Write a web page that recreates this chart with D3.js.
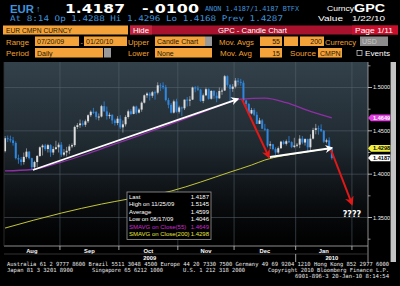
<!DOCTYPE html>
<html><head><meta charset="utf-8">
<script src="https://cdn.jsdelivr.net/npm/d3@7"></script>
<style>html,body{margin:0;padding:0;background:#000;overflow:hidden}svg{display:block}</style>
</head><body><svg id="c" width="400" height="286"></svg>
<script>
// ---------- DATA ----------
const firstDay = "2009-08-03", lastDay = "2010-01-20", axisEndDay = "2010-02-12";
const opens = [1.4265,1.4415,1.4403,1.4390,1.4360,1.4185,1.4170,1.4140,1.4200,1.4260,1.4185,1.4080,1.4140,1.4210,1.4310,1.4330,1.4290,1.4335,1.4250,1.4290,1.4310,
1.4340,1.4225,1.4250,1.4270,1.4320,1.4335,1.4545,1.4565,1.4585,1.4570,1.4610,1.4680,1.4720,1.4718,1.4660,1.4665,1.4785,1.4725,1.4670,1.4685,1.4620,1.4590,
1.4640,1.4540,1.4575,1.4660,1.4725,1.4695,1.4780,1.4710,1.4745,1.4825,1.4910,1.4930,1.4905,1.4945,1.4940,1.5025,1.5020,1.5005,1.4855,1.4800,1.4710,1.4840,
1.4720,1.4770,1.4760,1.4860,1.4850,1.4860,1.5000,1.4990,1.4975,1.4845,1.4910,1.4980,1.4870,1.4960,1.4905,1.4875,1.4960,1.4965,1.5130,1.5030,1.4985,
1.5010,1.5080,1.5065,1.5055,1.4850,1.4810,1.4700,1.4740,1.4685,1.4580,1.4620,1.4525,1.4520,1.4330,1.4345,1.4290,1.4250,1.4300,1.4375,1.4350,1.4380,1.4370,1.4315,
1.4330,1.4340,1.4410,1.4365,1.4405,1.4310,1.4410,1.4510,1.4530,1.4520,1.4500,1.4375,1.4390,1.4288];
const highs = [1.4440,1.4446,1.4445,1.4430,1.4379,1.4225,1.4199,1.4250,1.4298,1.4265,1.4190,1.4155,1.4220,1.4320,1.4345,1.4350,1.4350,1.4345,1.4320,1.4385,1.4365,
1.4370,1.4290,1.4315,1.4345,1.4355,1.4560,1.4590,1.4630,1.4620,1.4630,1.4690,1.4735,1.4765,1.4730,1.4700,1.4800,1.4840,1.4780,1.4710,1.4690,1.4640,1.4670,
1.4680,1.4620,1.4680,1.4745,1.4750,1.4790,1.4790,1.4760,1.4840,1.4920,1.4945,1.4945,1.4960,1.4965,1.5060,1.5050,1.5060,1.5030,1.4880,1.4820,1.4860,1.4870,
1.4790,1.4780,1.4860,1.4890,1.4900,1.5010,1.5015,1.5020,1.4985,1.4930,1.5000,1.4990,1.4970,1.4970,1.4945,1.5000,1.4990,1.5145,1.5140,1.5040,1.5040,
1.5110,1.5110,1.5100,1.5080,1.4860,1.4820,1.4765,1.4760,1.4720,1.4650,1.4635,1.4580,1.4525,1.4380,1.4350,1.4310,1.4320,1.4385,1.4390,1.4400,1.4440,1.4380,1.4420,
1.4360,1.4450,1.4440,1.4415,1.4410,1.4460,1.4535,1.4580,1.4560,1.4575,1.4510,1.4410,1.4425,1.4296];
const lows = [1.4250,1.4370,1.4366,1.4330,1.4170,1.4120,1.4100,1.4110,1.4180,1.4170,1.4046,1.4060,1.4080,1.4200,1.4215,1.4270,1.4250,1.4200,1.4220,1.4280,1.4250,
1.4200,1.4205,1.4205,1.4230,1.4300,1.4315,1.4520,1.4535,1.4550,1.4545,1.4590,1.4660,1.4695,1.4630,1.4620,1.4655,1.4720,1.4630,1.4640,1.4580,1.4560,1.4565,
1.4520,1.4480,1.4550,1.4640,1.4680,1.4690,1.4690,1.4700,1.4720,1.4815,1.4880,1.4850,1.4880,1.4860,1.4920,1.4960,1.4980,1.4840,1.4760,1.4700,1.4700,1.4710,
1.4700,1.4670,1.4740,1.4780,1.4785,1.4855,1.4945,1.4960,1.4835,1.4820,1.4900,1.4860,1.4860,1.4870,1.4830,1.4870,1.4915,1.4960,1.5010,1.4830,1.4950,
1.4990,1.5025,1.5020,1.4830,1.4780,1.4690,1.4690,1.4670,1.4580,1.4580,1.4520,1.4500,1.4310,1.4290,1.4275,1.4220,1.4235,1.4290,1.4340,1.4330,1.4360,1.4300,1.4300,
1.4310,1.4300,1.4345,1.4330,1.4265,1.4265,1.4400,1.4460,1.4455,1.4485,1.4360,1.4355,1.4275,1.4168];
const closes = [1.4415,1.4403,1.4390,1.4360,1.4185,1.4170,1.4140,1.4200,1.4260,1.4185,1.4080,1.4140,1.4210,1.4310,1.4330,1.4290,1.4335,1.4250,1.4290,1.4310,1.4340,
1.4225,1.4250,1.4270,1.4320,1.4335,1.4545,1.4565,1.4585,1.4570,1.4610,1.4680,1.4720,1.4718,1.4660,1.4665,1.4785,1.4725,1.4670,1.4685,1.4620,1.4590,1.4640,
1.4540,1.4575,1.4660,1.4725,1.4695,1.4780,1.4710,1.4745,1.4825,1.4910,1.4930,1.4905,1.4945,1.4940,1.5025,1.5020,1.5005,1.4855,1.4800,1.4710,1.4840,1.4720,
1.4770,1.4760,1.4860,1.4850,1.4860,1.5000,1.4990,1.4975,1.4845,1.4910,1.4980,1.4870,1.4960,1.4905,1.4875,1.4960,1.4965,1.5130,1.5030,1.4985,1.5010,
1.5080,1.5065,1.5055,1.4850,1.4810,1.4700,1.4740,1.4685,1.4580,1.4620,1.4525,1.4520,1.4330,1.4345,1.4290,1.4250,1.4300,1.4375,1.4350,1.4380,1.4370,1.4315,1.4330,
1.4340,1.4410,1.4365,1.4405,1.4310,1.4410,1.4510,1.4530,1.4520,1.4500,1.4375,1.4390,1.4287,1.4187];
// moving averages at trading-day positions
const sma55Day = [0,10,21,30,40,50,60,70,80,88,97,105,114,122];
const sma55Val = [1.4037,1.4054,1.4140,1.4227,1.4337,1.4446,1.4556,1.4671,1.4787,1.4867,1.4878,1.4825,1.4725,1.4649];
const sma200Day = [0,21,36,46,62,73,84,92,97,110,122];
const sma200Val = [1.3378,1.3551,1.3655,1.3713,1.3805,1.3909,1.4024,1.4105,1.4163,1.4244,1.4298];
const yTicks = [1.35,1.40,1.45,1.50];
const yMinorTicks = [1.325,1.375,1.425,1.475,1.525];
const monthNames = ["Aug","Sep","Oct","Nov","Dec","Jan"];
// hand-drawn trend arrows (trading-day index, price)
const arrowFrom = [[10.4,1.4048],[88.4,1.4867],[98.9,1.4198],[121.7,1.4279]];
const arrowTo   = [[86.9,1.4867],[98.5,1.4198],[122.0,1.4302],[129.5,1.3656]];
const arrowKind = ["white","red","white","red"];
const questionMark = {day:129.5, price:1.3505, text:"????"};
const legendLabels = ["Last","High on 11/25/09","Average","Low on 08/17/09","SMAVG on Close(55)","SMAVG on Close(200)"];
const legendValues = ["1.4187","1.5145","1.4599","1.4046","1.4649","1.4298"];
const tagValues = [1.4649,1.4298,1.4187];

// ---------- SETUP ----------
const svg = d3.select("#c");
const isWeekday = d => d.getDay() !== 0 && d.getDay() !== 6;
const parse = d3.timeParse("%Y-%m-%d");
const allDays = d3.timeDay.range(parse(firstDay), d3.timeDay.offset(parse(axisEndDay),1)).filter(isWeekday);
const nData = closes.length;
const x = d3.scaleLinear().domain([-0.5, 135.5]).range([3.7, 368]);
const y = d3.scaleLinear().domain([1.31712, 1.52942]).range([246, 62]);
const PL = 4, PR = 368, PT = 62, PB = 246;

svg.append("rect").attr("width",400).attr("height",286).attr("fill","#000");
const defs = svg.append("defs");
const g = defs.append("linearGradient").attr("id","bg").attr("x1",0).attr("y1",0).attr("x2",0).attr("y2",1);
g.append("stop").attr("offset","0%").attr("stop-color","#33414b");
g.append("stop").attr("offset","45%").attr("stop-color","#1f2930");
g.append("stop").attr("offset","80%").attr("stop-color","#080a0c");
g.append("stop").attr("offset","100%").attr("stop-color","#000");
defs.append("clipPath").attr("id","clip").append("rect").attr("x",PL).attr("y",PT).attr("width",PR-PL).attr("height",PB-PT);
function marker(id, color){
  defs.append("marker").attr("id",id).attr("viewBox","0 0 10 10").attr("refX",8).attr("refY",5)
    .attr("markerWidth",4.5).attr("markerHeight",4.5).attr("orient","auto-start-reverse")
    .append("path").attr("d","M0,0 L10,5 L0,10 L3,5 Z").attr("fill",color);
}
marker("mW","#ffffff"); marker("mR","#e01818");

// ---------- HEADER ----------
function txt(t, xx, yy, o){
  o = o || {};
  const e = svg.append("text").attr("x",xx).attr("y",yy).text(t)
    .attr("font-family", o.ff || "Liberation Sans, Arial, sans-serif")
    .attr("font-size", o.fs || 7.5).attr("fill", o.fill || "#fff")
    .attr("font-weight", o.fw || "normal");
  if (o.tl) e.attr("textLength", o.tl).attr("lengthAdjust","spacingAndGlyphs");
  if (o.anchor) e.attr("text-anchor", o.anchor);
  return e;
}
const BLUE = "#3f93dc", ORANGE = "#f4a33a", DARK = "#2a1700", LBL = "#f0a030";
txt("EUR", 10, 12.5, {fs:11.5, fw:"bold", fill:BLUE, tl:24});
txt("\u2191", 36, 12, {fs:9, fill:BLUE});
txt("1.4187", 65, 12.5, {fs:12.5, fw:"bold", tl:60, ff:"DejaVu Sans, sans-serif"});
txt("-.0100", 142, 12.5, {fs:12.5, fw:"bold", tl:57, ff:"DejaVu Sans, sans-serif"});
txt("ANON 1.4187/1.4187 BTFX", 205, 11, {fs:6.9, fill:BLUE, tl:94, ff:"DejaVu Sans Mono, monospace"});
txt("Curncy", 327, 11, {fs:8, tl:27});
txt("GPC", 354, 11.5, {fs:10, fw:"bold", tl:31});
txt("At  8:14 Op 1.4288   Hi 1.4296   Lo 1.4168   Prev 1.4287", 10, 21, {fs:7.8, fill:BLUE, tl:273, ff:"DejaVu Sans Mono, monospace"});
txt("Value", 318, 21, {fs:7.8, tl:25});
txt("1/22/10", 352, 21, {fs:7.8, tl:33});

svg.append("rect").attr("x",3).attr("y",25.5).attr("width",125).attr("height",9).attr("fill",ORANGE);
txt("EUR CMPN CURNCY", 6, 32.8, {fs:7, fill:DARK, tl:66});
svg.append("rect").attr("x",130).attr("y",25.5).attr("width",268).attr("height",9).attr("fill","#a8122c");
svg.append("rect").attr("x",130).attr("y",25.5).attr("width",22).attr("height",9).attr("fill","#c0243e");
svg.append("rect").attr("x",352).attr("y",25.5).attr("width",46).attr("height",9).attr("fill","#c8102c");
txt("Hide", 133, 32.8, {fs:7, tl:16});
txt("GPC - Candle Chart", 218, 32.8, {fs:7, tl:69});
txt("Page 1/11", 355, 32.8, {fs:7, tl:38});

function field(x0, w, yy, t, opt){
  opt = opt || {};
  svg.append("rect").attr("x",x0).attr("y",yy).attr("width",w).attr("height",9.5).attr("fill",opt.bg || ORANGE);
  if (t) txt(t, opt.right ? x0+w-2 : x0+2, yy+7.6, {fs:7, fill:opt.fill || DARK, anchor: opt.right ? "end" : null});
}
// row 4
txt("Range", 6, 44.5, {fs:7, fill:LBL, tl:23});
field(35, 44, 36.5, "07/20/09");
txt("-", 80.5, 44.5, {fs:7, fill:LBL});
field(84, 43, 36.5, "01/20/10");
txt("Upper", 128, 44.5, {fs:7, fill:LBL, tl:21});
field(155, 50, 36.5, "Candle Chart");
svg.append("rect").attr("x",205).attr("y",36.5).attr("width",7).attr("height",9.5).attr("fill","#9a9a9a");
txt("Mov. Avgs", 219, 44.5, {fs:7, fill:LBL, tl:35});
field(260, 22, 36.5, "55", {right:true});
field(284, 14, 36.5, "");
field(300, 24, 36.5, "200", {right:true});
txt("Currency", 325, 44.5, {fs:7, fill:LBL, tl:31});
field(360, 28, 36.5, "USD", {bg:"#8c8c8c", fill:"#c8c8c8"});
// row 5
txt("Period", 6, 56, {fs:7, fill:LBL, tl:23});
field(35, 68, 48, "Daily");
svg.append("rect").attr("x",104).attr("y",48).attr("width",7).attr("height",9.5).attr("fill","#9a9a9a");
txt("Lower", 128, 56, {fs:7, fill:LBL, tl:21});
field(155, 57, 48, "None");
txt("Mov. Avg", 220, 56, {fs:7, fill:LBL, tl:32});
field(260, 22, 48, "15", {right:true});
txt("Source", 290, 56, {fs:7, fill:LBL, tl:26});
field(318, 24, 48, "CMPN");
svg.append("rect").attr("x",357).attr("y",50.5).attr("width",5).attr("height",5).attr("fill","none").attr("stroke","#ddd").attr("stroke-width",0.7);
txt("Events", 365, 56, {fs:7, tl:25});

// ---------- PLOT ----------
svg.append("rect").attr("x",PL).attr("y",PT).attr("width",PR-PL).attr("height",PB-PT).attr("fill","url(#bg)");

// month boundaries
const monthStarts = [];
allDays.forEach((d,i) => { if (i>0 && d.getMonth() !== allDays[i-1].getMonth()) monthStarts.push(i); });
const bounds = monthStarts.map(i => i - 0.5);
const grid = svg.append("g");
grid.selectAll(".vg").data(bounds).join("line")
  .attr("x1", d=>x(d)).attr("x2", d=>x(d)).attr("y1",PT).attr("y2",PB)
  .attr("stroke","#58666f").attr("stroke-width",0.7).attr("stroke-opacity",0.75);
grid.selectAll(".hg").data(yTicks).join("line")
  .attr("x1",PL).attr("x2",PR).attr("y1",d=>y(d)).attr("y2",d=>y(d))
  .attr("stroke","#58666f").attr("stroke-width",0.7).attr("stroke-opacity",0.75);

const plot = svg.append("g").attr("clip-path","url(#clip)");
const lineGen = d3.line().x(d=>x(d[0])).y(d=>y(d[1])).curve(d3.curveMonotoneX);
plot.append("path").attr("d", lineGen(d3.zip(sma200Day, sma200Val)))
  .attr("fill","none").attr("stroke","#c4c63a").attr("stroke-width",1);
plot.append("path").attr("d", lineGen(d3.zip(sma55Day, sma55Val)))
  .attr("fill","none").attr("stroke","#8e2fa6").attr("stroke-width",1.3);

// candles
const idx = d3.range(nData);
const up = i => closes[i] >= opens[i];
const colUp = "#dcdcdc", colDn = "#2f87e0";
plot.selectAll(".wick").data(idx).join("line")
  .attr("x1", i=>x(i)).attr("x2", i=>x(i))
  .attr("y1", i=>y(highs[i])).attr("y2", i=>y(lows[i]))
  .attr("stroke", i=> up(i) ? "#9aa0a6" : colDn).attr("stroke-width",0.8);
plot.selectAll(".body").data(idx).join("rect")
  .attr("x", i=>x(i)-1).attr("width",2)
  .attr("y", i=>y(Math.max(opens[i],closes[i])))
  .attr("height", i=>Math.max(1, Math.abs(y(opens[i])-y(closes[i]))))
  .attr("fill", i=> up(i) ? colUp : colDn);

// arrows
arrowFrom.forEach((f,k) => {
  const t = arrowTo[k];
  const white = arrowKind[k] === "white";
  svg.append("line").attr("x1",x(f[0])).attr("y1",y(f[1])).attr("x2",x(t[0])).attr("y2",y(t[1]))
    .attr("stroke", white ? "#ffffff" : "#e01818").attr("stroke-width", white ? 1.8 : 2)
    .attr("marker-end", white ? "url(#mW)" : "url(#mR)");
});
txt(questionMark.text, x(questionMark.day), y(questionMark.price), {fs:8, fw:"bold", anchor:"middle", ff:"DejaVu Sans, sans-serif"});

// legend box
const lb = svg.append("g");
lb.append("rect").attr("x",127).attr("y",192).attr("width",84).attr("height",47.5)
  .attr("fill","#000").attr("stroke","#9a9a9a").attr("stroke-width",0.8);
const legCols = ["#fff","#fff","#fff","#fff","#d22ad2","#e6e63c"];
legendLabels.forEach((l,k) => {
  txt(l, 129, 198.8 + k*7.5, {fs:6, fill:legCols[k]});
  txt(legendValues[k], 209, 198.8 + k*7.5, {fs:6, fill:legCols[k], anchor:"end"});
});

// right axis
svg.append("line").attr("x1",PR).attr("x2",PR).attr("y1",PT).attr("y2",262).attr("stroke","#b0b0b0").attr("stroke-width",0.8);
svg.selectAll(".yt").data(yTicks).join("line")
  .attr("x1",PR).attr("x2",PR+4).attr("y1",d=>y(d)).attr("y2",d=>y(d)).attr("stroke","#ddd").attr("stroke-width",0.8);
svg.selectAll(".ym").data(yMinorTicks).join("line")
  .attr("x1",PR).attr("x2",PR+2.5).attr("y1",d=>y(d)).attr("y2",d=>y(d)).attr("stroke","#ccc").attr("stroke-width",0.7);
yTicks.forEach(v => txt(d3.format(".4f")(v), PR+5, y(v)+2, {fs:5.6, fill:"#f0f0f0"}));
const tagBg = ["#e23ce2","#f0f040","#ffffff"], tagFg = ["#ffffff","#000","#000"];
tagValues.forEach((v,k) => {
  const yc = y(v);
  svg.append("path").attr("d",`M${PR},${yc} L${PR+3},${yc-3.4} L${PR+24},${yc-3.4} L${PR+24},${yc+3.4} L${PR+3},${yc+3.4} Z`)
    .attr("fill",tagBg[k]);
  txt(d3.format(".4f")(v), PR+5, yc+2, {fs:5.6, fill:tagFg[k], fw:"bold"});
});
// scroll bar
svg.append("rect").attr("x",391).attr("y",PT).attr("width",5).attr("height",200).attr("fill","#c4c4c4");
svg.append("line").attr("x1",390.5).attr("x2",390.5).attr("y1",PT).attr("y2",262).attr("stroke","#666").attr("stroke-width",0.8);

// bottom axis
svg.append("line").attr("x1",PL).attr("x2",PR).attr("y1",PB).attr("y2",PB).attr("stroke","#b0b0b0").attr("stroke-width",0.8);
svg.append("line").attr("x1",PL).attr("x2",PL).attr("y1",PT).attr("y2",PB).attr("stroke","#333").attr("stroke-width",0.8);
svg.selectAll(".xt").data(bounds).join("line")
  .attr("x1",d=>x(d)).attr("x2",d=>x(d)).attr("y1",PB).attr("y2",PB+4).attr("stroke","#ccc").attr("stroke-width",0.8);
const edges = [-0.5, ...bounds];
monthNames.forEach((m,k) => {
  const a = edges[k], b = Math.min(edges[k+1], 135.5);
  txt(m, x((a+b)/2), 252.5, {fs:5.8, fw:"bold", anchor:"middle"});
});
svg.append("line").attr("x1",PL).attr("x2",PR).attr("y1",254).attr("y2",254).attr("stroke","#555").attr("stroke-width",0.6);
const yearBreak = bounds[4];
svg.append("line").attr("x1",x(yearBreak)).attr("x2",x(yearBreak)).attr("y1",254).attr("y2",262).attr("stroke","#ccc").attr("stroke-width",0.8);
txt("2009", (x(-0.5)+x(yearBreak))/2, 260, {fs:5.8, fw:"bold", anchor:"middle"});
txt("2010", (x(yearBreak)+PR)/2, 260, {fs:5.8, fw:"bold", anchor:"middle"});

// footer
const FF = {fs:5.6, fill:"#e8e8e8", ff:"DejaVu Sans Mono, monospace"};
txt("Australia 61 2 9777 8600 Brazil 5511 3048 4500 Europe 44 20 7330 7500 Germany 49 69 9204 1210 Hong Kong 852 2977 6000", 7, 266, Object.assign({tl:382}, FF));
txt("Japan 81 3 3201 8900", 7, 272, Object.assign({tl:66}, FF));
txt("Singapore 65 6212 1000", 92, 272, Object.assign({tl:71}, FF));
txt("U.S. 1 212 318 2000", 183, 272, Object.assign({tl:62}, FF));
txt("Copyright 2010 Bloomberg Finance L.P.", 268, 272, Object.assign({tl:121}, FF));
txt("6901-896-3 20-Jan-10  8:14:54", 295, 278, Object.assign({tl:94}, FF));
</script></body></html>
